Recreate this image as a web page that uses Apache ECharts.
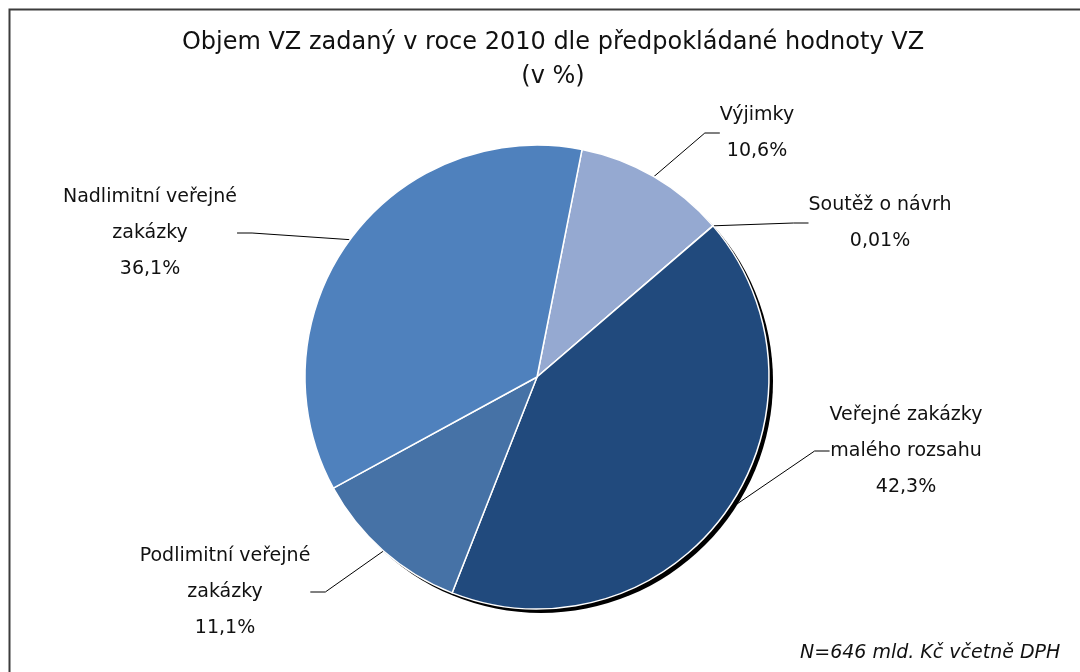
<!DOCTYPE html>
<html>
<head>
<meta charset="utf-8">
<script src="https://cdn.jsdelivr.net/npm/echarts@6/dist/echarts.min.js"></script>
<style>
  html, body { margin: 0; padding: 0; background: #fff; }
  #chart { width: 1080px; height: 672px; }
</style>
</head>
<body>
<div id="chart"></div>
<script>
// data, clockwise from the top
const categories = [
  'Výjimky',
  'Soutěž o návrh',
  'Veřejné zakázky\nmalého rozsahu',
  'Podlimitní veřejné\nzakázky',
  'Nadlimitní veřejné\nzakázky'
]
const shares = [10.6, 0.01, 42.3, 11.1, 36.1]
const colors = ['#95a9d1', '#95a9d1', '#214a7d', '#4672a6', '#4f81bd']

// where each label block sits (centre of the text)
const labelSpots = [
  [757, 133],
  [880, 223],
  [906, 451],
  [225, 592],
  [150, 233]
]

const font = 'DejaVu Sans'
const chart = echarts.init(document.getElementById('chart'))

const fmt = v => String(v).replace('.', ',') + '%'

chart.setOption({
  animation: false,
  title: {
    text: 'Objem VZ zadaný v roce 2010 dle předpokládané hodnoty VZ\n(v %)',
    left: 548,
    top: 21,
    textAlign: 'center',
    textStyle: {
      fontFamily: font,
      fontSize: 24,
      fontWeight: 'normal',
      color: '#111',
      lineHeight: 34
    }
  },
  graphic: [
    {
      type: 'rect',
      silent: true,
      shape: { x: 9.5, y: 9.5, width: 1200, height: 800 },
      style: { fill: 'none', stroke: '#3c3c3c', lineWidth: 2 }
    },
    {
      type: 'text',
      left: 800,
      top: 644,
      style: {
        text: 'N=646 mld. Kč včetně DPH',
        font: 'italic 19px "' + font + '"',
        fill: '#111'
      }
    }
  ],
  series: [
    {
      // dark rim under the pie
      type: 'pie',
      silent: true,
      center: [541, 381],
      radius: 232,
      label: { show: false },
      labelLine: { show: false },
      itemStyle: { color: '#000' },
      data: [{ value: 1, name: '' }]
    },
    {
      type: 'pie',
      center: [537, 377],
      radius: 232,
      startAngle: 78.8,
      clockwise: true,
      itemStyle: { borderColor: '#fff', borderWidth: 1.5 },
      label: {
        fontFamily: font,
        fontSize: 19,
        lineHeight: 36,
        color: '#111',
        formatter: p => p.name + '\n' + fmt(p.value)
      },
      labelLine: {
        show: true,
        length: 20,
        length2: 15,
        lineStyle: { color: '#000', width: 1 }
      },
      labelLayout: params => {
        const s = labelSpots[params.dataIndex]
        return { x: s[0], y: s[1], align: 'center', verticalAlign: 'middle' }
      },
      data: categories.map((c, i) => ({
        name: c,
        value: shares[i],
        itemStyle: { color: colors[i] }
      }))
    }
  ]
})
</script>
</body>
</html>
